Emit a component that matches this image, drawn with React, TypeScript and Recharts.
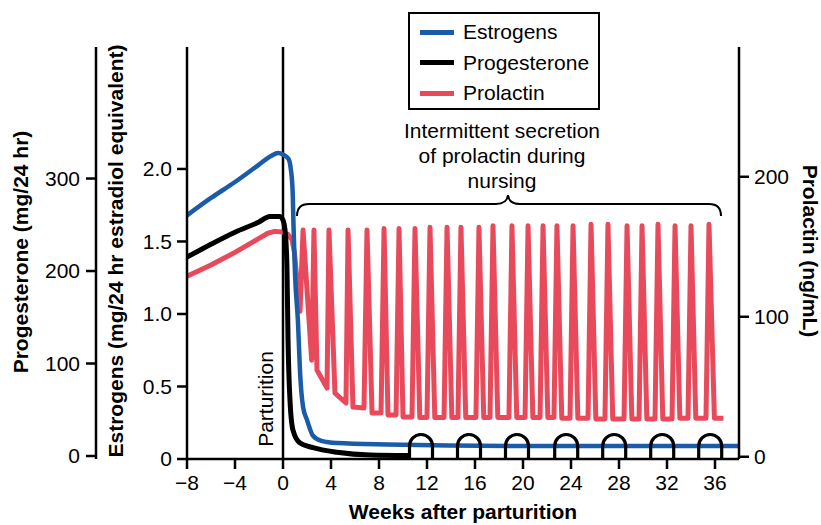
import React from 'react';
import {
  ComposedChart,
  Line,
  Scatter,
  XAxis,
  YAxis,
  ReferenceLine,
  Legend,
} from 'recharts';

// weeks relative to parturition
const weekTicks = [-8, -4, 0, 4, 8, 12, 16, 20, 24, 28, 32, 36];
const estrogenTicks = [0, 0.5, 1, 1.5, 2];
const progesteroneTicks = [0, 100, 200, 300];
const prolactinTicks = [0, 100, 200];

// estrogens, mg/24 hr estradiol equivalent
const estrogens = [
  [-8, 1.68], [-6, 1.8], [-4, 1.91], [-2, 2.03], [-1, 2.09], [-0.4, 2.11],
  [0, 2.1], [0.45, 2.07], [0.65, 2.0], [0.8, 1.85], [0.88, 1.6], [1.0, 1.28],
  [1.25, 0.94], [1.42, 0.6], [1.67, 0.36], [2.0, 0.27], [2.5, 0.16],
  [3.2, 0.125], [4.5, 0.11], [8.7, 0.1], [20, 0.09], [38, 0.09],
];

// progesterone, mg/24 hr
const progesterone = [
  [-8, 215], [-6, 229], [-4, 242], [-2, 253], [-1.1, 259], [-0.3, 259],
  [0, 255], [0.2, 240], [0.33, 204], [0.42, 125], [0.58, 61], [0.83, 28],
  [1.42, 14], [2.5, 9], [4.5, 4], [7.25, 1], [10.5, 0.5],
];

// prolactin, ng/mL
const prolactin = [
  [-8, 129], [-6, 137], [-4, 146], [-3, 151], [-2, 156], [-1.3, 159.5],
  [-0.7, 161], [0, 160.5], [0.4, 159], [0.75, 155], [0.95, 146], [1.42, 104],
  [1.67, 162], [2.39, 69], [2.58, 162], [2.83, 62], [3.67, 49], [3.83, 162],
  [4.33, 45.5], [5.25, 38.4], [5.42, 162], [5.83, 35.5], [6.75, 34.8], [7.0, 162],
  [7.42, 31.2], [8.17, 31.2], [8.42, 163], [8.75, 29.8], [9.42, 29.8], [9.67, 163],
  [10.0, 28.4], [10.75, 28.4], [11.0, 163], [11.4, 28], [12.0, 28], [12.25, 164],
  [12.65, 28], [13.42, 28], [13.67, 164], [14.07, 28], [14.58, 28], [14.83, 164],
  [15.23, 28], [16.08, 28], [16.33, 164], [16.73, 28], [17.25, 28], [17.5, 165],
  [17.9, 28], [18.83, 28], [19.08, 165], [19.48, 28], [20.17, 28], [20.42, 165],
  [20.82, 28], [21.42, 28], [21.67, 165], [22.07, 28], [22.58, 28], [22.83, 165],
  [23.23, 27.5], [23.92, 27.5], [24.17, 165], [24.57, 27.5], [25.42, 27.5], [25.67, 166],
  [26.07, 27], [26.83, 27], [27.08, 166], [27.48, 27], [28.42, 27], [28.67, 165],
  [29.07, 27], [29.67, 27], [29.92, 165], [30.32, 27], [31.0, 27], [31.25, 166],
  [31.65, 27], [32.42, 27], [32.67, 165], [33.07, 27.5], [33.75, 27.5], [34.0, 165],
  [34.4, 27.5], [35.25, 27.5], [35.5, 166], [35.95, 27.5], [36.7, 27.5],
];

// nursing arches drawn on the baseline
const nursingWeeks = [11.5, 15.5, 19.5, 23.6, 27.6, 31.6, 35.6];

const BLUE = '#1b5ca8';
const BLACK = '#000000';
const RED = '#e84a5b';
const FONT = '"Liberation Sans", Arial, Helvetica, sans-serif';

const series = [
  { name: 'Estrogens', color: BLUE },
  { name: 'Progesterone', color: BLACK },
  { name: 'Prolactin', color: RED },
];

const toRows = (pts: number[][]) => pts.map(([w, v]) => ({ w, v }));

const fmtWeek = (v: number) => (v < 0 ? `\u2212${-v}` : `${v}`);
const fmtEstrogen = (v: number) => (v === 0 ? '0' : v.toFixed(1));

const axisStroke = { stroke: '#000', strokeWidth: 2.5 };
const tickStyle = { fill: '#000', fontSize: 21, fontFamily: FONT };

function LegendBox() {
  return (
    <div
      style={{
        width: 192,
        height: 98,
        border: '2px solid #000',
        boxSizing: 'border-box',
        position: 'relative',
        background: '#fff',
        fontFamily: FONT,
        fontSize: 21,
      }}
    >
      {series.map((s, i) => (
        <div
          key={s.name}
          style={{ position: 'absolute', left: 10, top: 6 + i * 30.5, height: 24, display: 'flex', alignItems: 'center' }}
        >
          <div style={{ width: 34, height: 5, background: s.color, marginRight: 9 }} />
          <span style={{ lineHeight: '24px', color: '#000' }}>{s.name}</span>
        </div>
      ))}
    </div>
  );
}

function Arch(props: any) {
  const { cx, cy } = props;
  const r = 11.5;
  const d = `M${cx - r},${cy} L${cx - r},${cy - 13} A${r},${r} 0 0 1 ${cx + r},${cy - 13} L${cx + r},${cy}`;
  return <path d={d} fill="none" stroke="#000" strokeWidth={3.2} />;
}

export default function App() {
  return (
    <div style={{ position: 'absolute', left: 0, top: 0, fontFamily: FONT }}>
      <ComposedChart width={821} height={525} margin={{ top: 47, right: 0, bottom: 6, left: 0 }}>
        <XAxis
          dataKey="w"
          type="number"
          domain={[-8, 38]}
          allowDataOverflow
          ticks={weekTicks}
          tickFormatter={fmtWeek}
          axisLine={axisStroke}
          tickLine={axisStroke}
          tickSize={10}
          tickMargin={6}
          tick={tickStyle}
          height={60}
          label={{
            value: 'Weeks after parturition',
            position: 'insideBottom',
            offset: 0,
            style: { fill: '#000', fontSize: 21, fontWeight: 700, fontFamily: FONT },
          }}
        />
        <YAxis
          yAxisId="e"
          orientation="left"
          type="number"
          domain={[0, 2.841]}
          allowDataOverflow
          ticks={estrogenTicks}
          tickFormatter={fmtEstrogen}
          width={91}
          axisLine={axisStroke}
          tickLine={axisStroke}
          tickSize={10}
          tickMargin={5}
          tick={tickStyle}
          label={(p: any) => {
            const vb = p.viewBox;
            const x = vb.x + 27;
            const y = vb.y + vb.height / 2 - 2;
            return (
              <text x={x} y={y} transform={`rotate(-90, ${x}, ${y})`} textAnchor="middle" fontSize={21} fontWeight={700} fontFamily={FONT} fill="#000">
                Estrogens (mg/24 hr estradiol equivalent)
              </text>
            );
          }}
        />
        <YAxis
          yAxisId="p"
          orientation="left"
          type="number"
          domain={[-3.24, 442.2]}
          allowDataOverflow
          ticks={progesteroneTicks}
          width={96}
          axisLine={axisStroke}
          tickLine={axisStroke}
          tickSize={10}
          tickMargin={6}
          tick={tickStyle}
          label={(p: any) => {
            const vb = p.viewBox;
            const x = vb.x + 28;
            const y = vb.y + vb.height / 2 - 1;
            return (
              <text x={x} y={y} transform={`rotate(-90, ${x}, ${y})`} textAnchor="middle" fontSize={21} fontWeight={700} fontFamily={FONT} fill="#000">
                Progesterone (mg/24 hr)
              </text>
            );
          }}
        />
        <YAxis
          yAxisId="r"
          orientation="right"
          type="number"
          domain={[-1.6, 292.7]}
          allowDataOverflow
          ticks={prolactinTicks}
          width={82}
          axisLine={axisStroke}
          tickLine={axisStroke}
          tickSize={10}
          tickMargin={5}
          tick={tickStyle}
          label={(p: any) => {
            const vb = p.viewBox;
            const x = vb.x + 64;
            const y = vb.y + vb.height / 2 - 2;
            return (
              <text x={x} y={y} transform={`rotate(90, ${x}, ${y})`} textAnchor="middle" fontSize={21} fontWeight={700} fontFamily={FONT} fill="#000">
                Prolactin (ng/mL)
              </text>
            );
          }}
        />
        <ReferenceLine
          x={0}
          yAxisId="e"
          stroke="#000"
          strokeWidth={2.5}
          label={(p: any) => {
            const vb = p.viewBox;
            const x = vb.x - 10;
            const y = vb.y + vb.height - 60;
            return (
              <text x={x} y={y} transform={`rotate(-90, ${x}, ${y})`} textAnchor="middle" fontSize={21} fontFamily={FONT} fill="#000">
                Parturition
              </text>
            );
          }}
        />
        <Line
          yAxisId="r"
          data={toRows(prolactin)}
          dataKey="v"
          name="Prolactin"
          type="linear"
          stroke={RED}
          strokeWidth={5}
          strokeLinejoin="round"
          dot={false}
          activeDot={false}
          isAnimationActive={false}
        />
        <Line
          yAxisId="p"
          data={toRows(progesterone)}
          dataKey="v"
          name="Progesterone"
          type="monotoneX"
          stroke={BLACK}
          strokeWidth={5}
          dot={false}
          activeDot={false}
          isAnimationActive={false}
        />
        <Line
          yAxisId="e"
          data={toRows(estrogens)}
          dataKey="v"
          name="Estrogens"
          type="monotoneX"
          stroke={BLUE}
          strokeWidth={4.5}
          dot={false}
          activeDot={false}
          isAnimationActive={false}
        />
        <Scatter
          yAxisId="e"
          data={nursingWeeks.map((w) => ({ w, v: 0 }))}
          dataKey="v"
          legendType="none"
          shape={Arch}
          isAnimationActive={false}
        />
        <g>
          <path
            d="M297,216 Q297,204 309,204 L496,204 Q507,204 508,195 Q509,204 520,204 L709,204 Q721,204 721,216"
            fill="none"
            stroke="#000"
            strokeWidth={2}
          />
          <text textAnchor="middle" fontSize={21} fontFamily={FONT} fill="#000">
            <tspan x={502} y={138}>Intermittent secretion</tspan>
            <tspan x={502} y={163}>of prolactin during</tspan>
            <tspan x={502} y={188}>nursing</tspan>
          </text>
        </g>
        <Legend
          layout="vertical"
          align="center"
          verticalAlign="middle"
          content={() => <LegendBox />}
          wrapperStyle={{ left: 408, top: 12, width: 192, height: 98 }}
        />
      </ComposedChart>
    </div>
  );
}
